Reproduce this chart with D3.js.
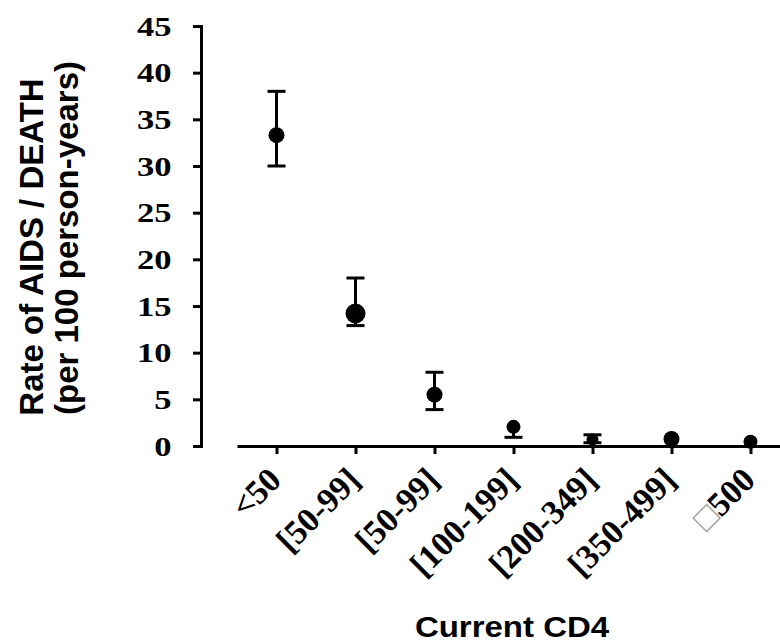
<!DOCTYPE html>
<html lang="en">
<head>
<meta charset="utf-8">
<script src="https://cdn.jsdelivr.net/npm/d3@7"></script>
<style>
  body { margin: 0; background: #fff; }
  .axis path, .axis line { stroke: #000; stroke-width: 3; }
  .ytick text { font: bold 27px "Liberation Serif", "Times New Roman", serif; fill: #000; }
  .xtick text { font: bold 34px "Liberation Serif", "Times New Roman", serif; fill: #000; }
  .title { font: bold 33px "Liberation Sans", Arial, sans-serif; fill: #000; }
</style>
</head>
<body>
<script>
// data (caps hidden behind a marker are given equal to the rate)
var categories = ["<50", "[50-99]", "[50-99] ", "[100-199]", "[200-349]", "[350-499]", "\u25A1500"];
var rate  = [33.3, 14.2, 5.5, 2.05, 0.7, 0.75, 0.45];
var lower = [30.0, 12.9, 3.9, 0.93, 0.35, 0.75, 0.45];
var upper = [38.0, 18.0, 7.9, 2.05, 1.2, 0.75, 0.45];
var markerR = [8, 10, 8, 7, 6, 8, 7];
var yTicks = [0, 5, 10, 15, 20, 25, 30, 35, 40, 45];

var w = 780, h = 644;
var svg = d3.select("body").append("svg")
    .attr("width", w)
    .attr("height", h);

var y = d3.scaleLinear().domain([0, 45]).range([446, 26]);
var x = d3.scalePoint().domain(categories).range([237, 790]).padding(0.5);

// y axis (ticks outside, serif bold labels)
var yAxis = svg.append("g")
    .attr("class", "axis ytick")
    .attr("transform", "translate(201,0)")
    .call(d3.axisLeft(y).tickValues(yTicks).tickSize(8).tickSizeOuter(8));
yAxis.selectAll("text")
    .attr("x", -23)
    .attr("dy", "0.34em")
    .attr("transform", "scale(1.28,1)");

// x axis, separate line from the y axis
var xAxis = svg.append("g")
    .attr("class", "axis xtick")
    .attr("transform", "translate(0,446)")
    .call(d3.axisBottom(x).tickSize(8).tickSizeOuter(0));
xAxis.selectAll("text")
    .attr("text-anchor", "end")
    .attr("x", 0).attr("y", 0).attr("dy", 0)
    .attr("transform", "translate(6,36) rotate(-45)");
// the last label shows a missing-glyph box
xAxis.selectAll("text").filter(function(d) { return d === "\u25A1500"; })
    .text(null)
    .call(function(t) {
        t.append("tspan").text("\u25A1").style("font-weight", "normal").style("fill", "#999");
        t.append("tspan").text("500");
    });

// error bars
var pts = categories.map(function(c, i) {
    return { c: c, v: rate[i], lo: lower[i], hi: upper[i], r: markerR[i] };
});
var bars = svg.append("g").selectAll("g")
    .data(pts)
    .enter().append("g")
    .attr("stroke", "#000")
    .attr("stroke-width", 3);
bars.append("line")
    .attr("x1", function(d) { return x(d.c); })
    .attr("x2", function(d) { return x(d.c); })
    .attr("y1", function(d) { return y(d.lo); })
    .attr("y2", function(d) { return y(d.hi); });
bars.filter(function(d) { return d.hi > d.v; }).append("line")
    .attr("x1", function(d) { return x(d.c) - 9; })
    .attr("x2", function(d) { return x(d.c) + 9; })
    .attr("y1", function(d) { return y(d.hi); })
    .attr("y2", function(d) { return y(d.hi); });
bars.filter(function(d) { return d.lo < d.v; }).append("line")
    .attr("x1", function(d) { return x(d.c) - 9; })
    .attr("x2", function(d) { return x(d.c) + 9; })
    .attr("y1", function(d) { return y(d.lo); })
    .attr("y2", function(d) { return y(d.lo); });

// points
svg.append("g").selectAll("circle")
    .data(pts)
    .enter().append("circle")
    .attr("cx", function(d) { return x(d.c); })
    .attr("cy", function(d) { return y(d.v); })
    .attr("r", function(d) { return d.r; })
    .attr("fill", "#000");

// axis titles
svg.append("text").attr("class", "title")
    .attr("text-anchor", "middle")
    .attr("transform", "translate(43,247) rotate(-90)")
    .text("Rate of AIDS / DEATH");
svg.append("text").attr("class", "title")
    .attr("text-anchor", "middle")
    .attr("transform", "translate(78,238) rotate(-90)")
    .text("(per 100 person-years)");
svg.append("text").attr("class", "title")
    .attr("text-anchor", "middle")
    .attr("transform", "translate(512,637) scale(1.1,1)")
    .style("font-size", "30px")
    .text("Current CD4");
</script>
</body>
</html>
